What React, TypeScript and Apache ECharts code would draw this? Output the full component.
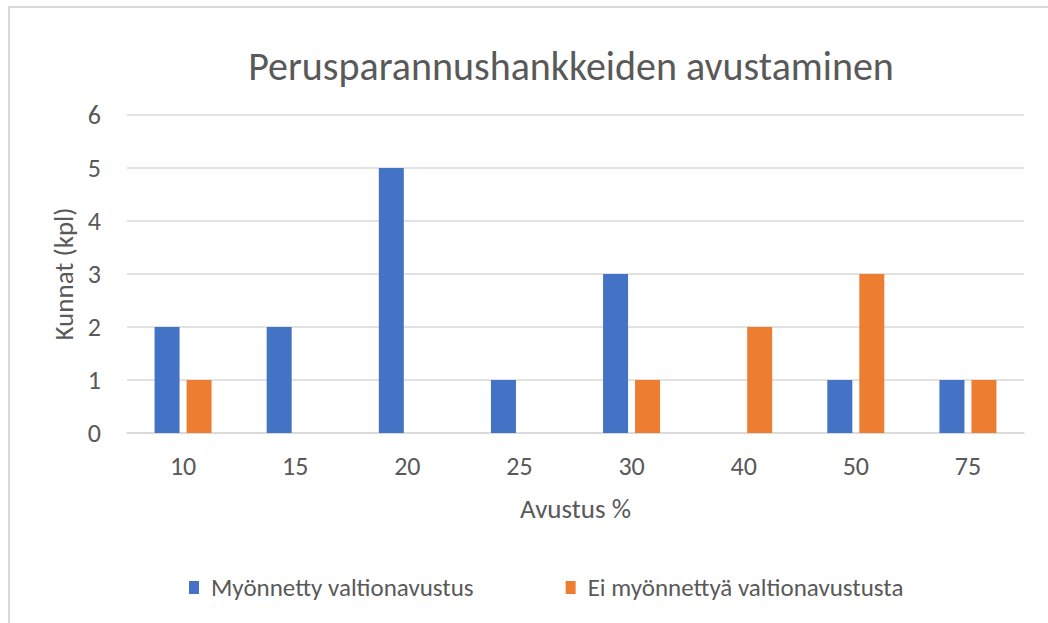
import React, { useEffect, useRef } from "react";
import * as echarts from "echarts";

const categories = ["10", "15", "20", "25", "30", "40", "50", "75"];
const myonnetty = [2, 2, 5, 1, 3, 0, 1, 1];
const eiMyonnetty = [1, 0, 0, 0, 1, 2, 3, 1];
const seriesNames = ["Myönnetty valtionavustus", "Ei myönnettyä valtionavustusta"];
const titleText = "Perusparannushankkeiden avustaminen";
const xName = "Avustus %";
const yName = "Kunnat (kpl)";

const FONT = "Carlito, Calibri, 'Open Sans', sans-serif";

export default function App() {
  const ref = useRef<HTMLDivElement>(null);
  useEffect(() => {
    if (!ref.current) return;
    const chart = echarts.init(ref.current, null, { renderer: "svg" });
    chart.setOption({
      animation: false,
      backgroundColor: "#ffffff",
      textStyle: { fontFamily: FONT },
      graphic: [
        {
          type: "rect",
          shape: { x: 9, y: 7, width: 1100, height: 700 },
          style: { fill: "none", stroke: "#D9D9D9", lineWidth: 2 },
          silent: true,
          z: -10,
        },
      ],
      title: {
        text: titleText,
        left: 566,
        top: 41,
        textAlign: "center",
        textStyle: { fontFamily: FONT, fontSize: 40, fontWeight: "normal", color: "#595959" },
      },
      legend: {
        data: seriesNames,
        left: 184,
        top: 570,
        itemWidth: 10,
        itemHeight: 13,
        itemGap: 92,
        icon: "rect",
        textStyle: { fontFamily: FONT, fontSize: 25, color: "#595959", padding: [0, 0, 0, 7] },
      },
      grid: { left: 127, right: 24, top: 115, bottom: 190, containLabel: false },
      xAxis: {
        type: "category",
        data: categories,
        name: xName,
        nameLocation: "middle",
        nameGap: 62,
        nameTextStyle: { fontFamily: FONT, fontSize: 27, color: "#595959" },
        axisLine: { lineStyle: { color: "#D9D9D9", width: 1.5 } },
        axisTick: { show: false },
        axisLabel: { fontFamily: FONT, fontSize: 26, color: "#595959", margin: 20 },
      },
      yAxis: {
        type: "value",
        min: 0,
        max: 6,
        interval: 1,
        name: yName,
        nameLocation: "middle",
        nameGap: 46,
        nameRotate: 90,
        nameTextStyle: { fontFamily: FONT, fontSize: 27, color: "#595959" },
        axisLine: { show: false },
        axisTick: { show: false },
        axisLabel: { fontFamily: FONT, fontSize: 26, color: "#595959", margin: 26 },
        splitLine: { lineStyle: { color: "#D9D9D9", width: 1.5 } },
      },
      series: [
        {
          name: seriesNames[0],
          type: "bar",
          data: myonnetty,
          barWidth: 25,
          barGap: "28%",
          itemStyle: { color: "#4472C4" },
        },
        {
          name: seriesNames[1],
          type: "bar",
          data: eiMyonnetty,
          barWidth: 25,
          itemStyle: { color: "#ED7D31" },
        },
      ],
    });
    return () => chart.dispose();
  }, []);
  return (
    <div
      ref={ref}
      style={{ position: "absolute", left: 0, top: 0, width: 1048, height: 623 }}
    />
  );
}
